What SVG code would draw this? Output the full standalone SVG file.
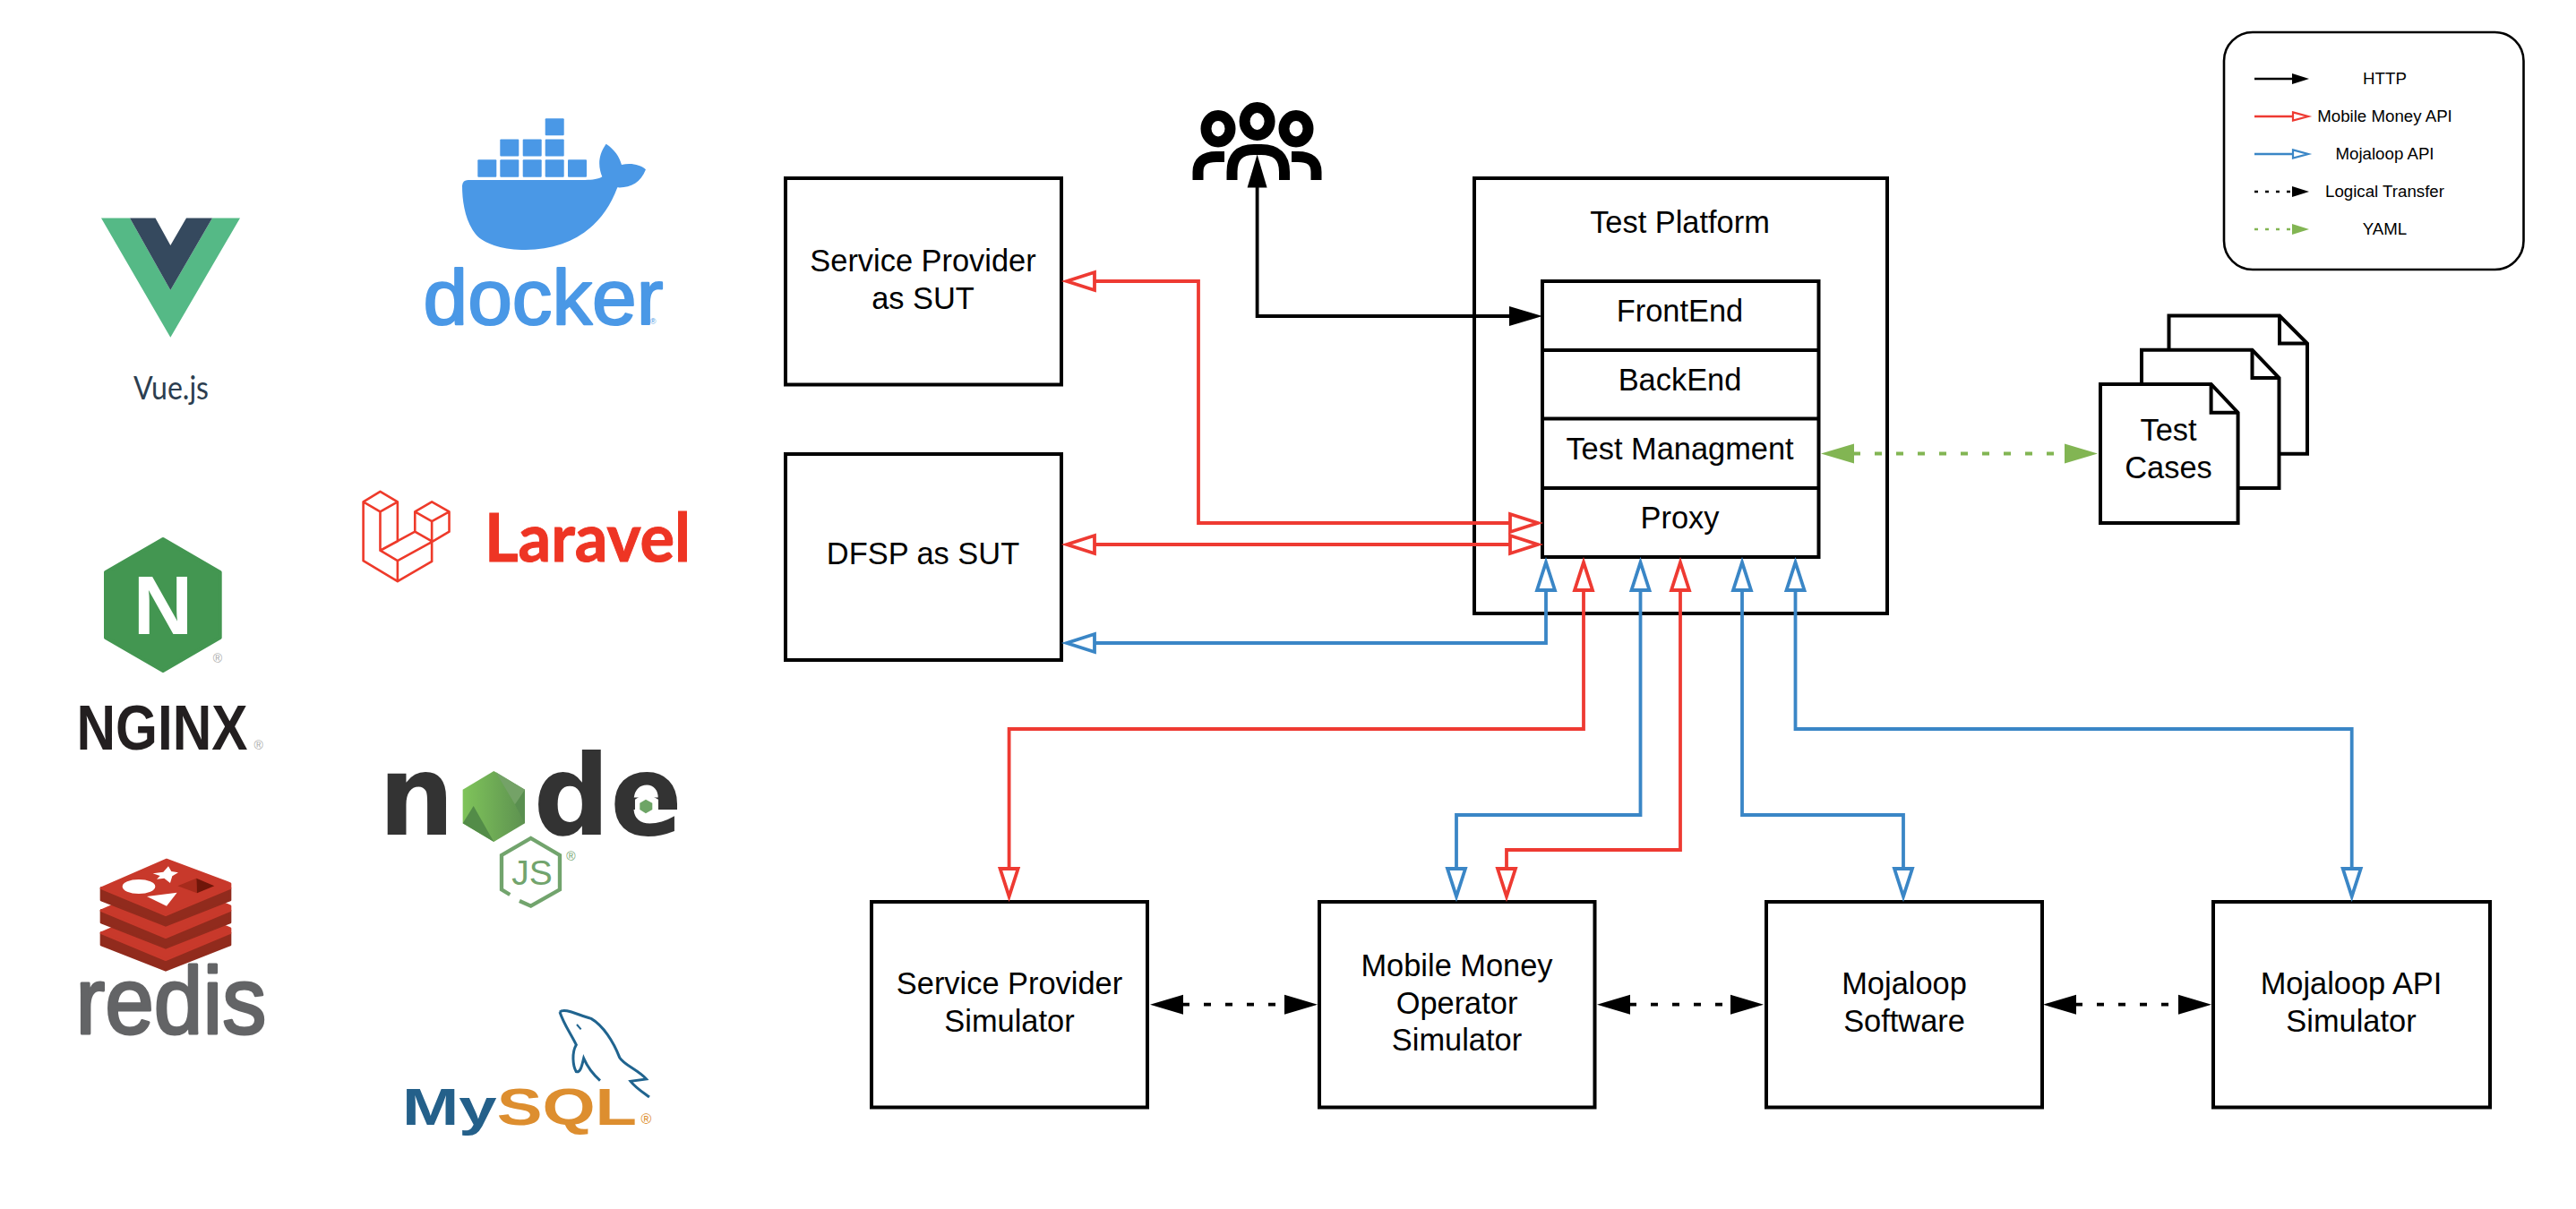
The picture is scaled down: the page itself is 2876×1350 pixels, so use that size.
<svg xmlns="http://www.w3.org/2000/svg" width="2876" height="1350" viewBox="0 0 2876 1350">
<style>
text{font-family:"Liberation Sans",Arial,sans-serif;fill:#000}
.lb{font-size:34.400px;text-anchor:middle}
.lg{font-size:18.700px;text-anchor:middle}
.box{fill:#fff;stroke:#000;stroke-width:4}
.ln{fill:none;stroke:#000;stroke-width:4}
.c{fill:none;stroke-width:3.8;stroke-linejoin:miter}
.red{stroke:#ee3a32}.blue{stroke:#3a86c6}.blk{stroke:#000}.grn{stroke:#82b553}
.dot{stroke-dasharray:8 16}
.lc{fill:none;stroke-width:2.4}
.ldot{stroke-dasharray:4 8}
.hd{fill:#fff;stroke-width:3.8;stroke-miterlimit:12}
.hl{fill:#fff;stroke-width:2.2;stroke-miterlimit:12}
.ic{fill:none;stroke:#000;stroke-width:12}
.cont{fill:#4a98e6}
.lv{fill:none;stroke:#ee3a2a;stroke-width:2.6;stroke-linejoin:round;vector-effect:non-scaling-stroke}
.reg{font-size:14px;fill:#aaa;text-anchor:middle}
</style>
<defs>
<marker id="redOpen" markerUnits="userSpaceOnUse" markerWidth="42" markerHeight="28" viewBox="0 0 42 28" refX="2" refY="14" orient="auto-start-reverse" overflow="visible"><path class="hd" stroke="#ee3a32" d="M2 4L33 14L2 24Z"/></marker>
<marker id="blueOpen" markerUnits="userSpaceOnUse" markerWidth="42" markerHeight="28" viewBox="0 0 42 28" refX="2" refY="14" orient="auto-start-reverse" overflow="visible"><path class="hd" stroke="#3a86c6" d="M2 4L33 14L2 24Z"/></marker>
<marker id="blackSolid" markerUnits="userSpaceOnUse" markerWidth="40" markerHeight="24" viewBox="0 0 40 24" refX="1" refY="12" orient="auto-start-reverse"><path d="M0 1L37 12L0 23Z"/></marker>
<marker id="greenSolid" markerUnits="userSpaceOnUse" markerWidth="40" markerHeight="24" viewBox="0 0 40 24" refX="1" refY="12" orient="auto-start-reverse"><path fill="#82b553" d="M0 1L37 12L0 23Z"/></marker>
<marker id="redLeg" markerUnits="userSpaceOnUse" markerWidth="24" markerHeight="14" viewBox="0 0 24 14" refX="1" refY="7" orient="auto" overflow="visible"><path class="hl" stroke="#ee3a32" d="M1 2.400L18 7L1 11.600Z"/></marker>
<marker id="blueLeg" markerUnits="userSpaceOnUse" markerWidth="24" markerHeight="14" viewBox="0 0 24 14" refX="1" refY="7" orient="auto" overflow="visible"><path class="hl" stroke="#3a86c6" d="M1 2.400L18 7L1 11.600Z"/></marker>
<marker id="blackLeg" markerUnits="userSpaceOnUse" markerWidth="20" markerHeight="14" viewBox="0 0 20 14" refX="0" refY="7" orient="auto"><path d="M0 1L19 7L0 13Z"/></marker>
<marker id="greenLeg" markerUnits="userSpaceOnUse" markerWidth="20" markerHeight="14" viewBox="0 0 20 14" refX="0" refY="7" orient="auto"><path fill="#82b553" d="M0 1L19 7L0 13Z"/></marker>
<linearGradient id="nodeGrad" x1="0" x2="1" y1="0" y2="0"><stop offset="0" stop-color="#7fc45a"/><stop offset="1" stop-color="#5d9150"/></linearGradient>
</defs>

<g id="logo-vue">
<path fill="#55b986" d="M113 243.500H145L190.300 324L237 243.500H268L190.300 376.700Z"/>
<path fill="#35495e" d="M145 243.500H173.500L190.300 274L208 243.500H237L190.300 324Z"/>
<text x="191" y="446" font-size="36" text-anchor="middle" textLength="84" lengthAdjust="spacingAndGlyphs" style="font-family:Lato,'Liberation Sans',sans-serif;font-weight:400;fill:#2c3e50">Vue.js</text>
</g>

<g id="logo-docker">
<g class="cont">
<rect x="533.300" y="178.300" width="21" height="19.500" rx="1"/><rect x="558.300" y="178.300" width="21" height="19.500" rx="1"/><rect x="583.700" y="178.300" width="21" height="19.500" rx="1"/><rect x="608.700" y="178.300" width="21" height="19.500" rx="1"/><rect x="634" y="178.300" width="21" height="19.500" rx="1"/>
<rect x="558.300" y="155.500" width="21" height="19" rx="1"/><rect x="583.700" y="155.500" width="21" height="19" rx="1"/><rect x="608.700" y="155.500" width="21" height="19" rx="1"/>
<rect x="608.700" y="132.300" width="21" height="19" rx="1"/>
</g>
<path class="cont" transform="translate(440 110) scale(.3333)" d="M228 292Q230 273 248 273H640C665 273 685 270 697 262C685 232 680 195 710 152C738 170 755 195 762 222C795 215 825 222 843 238C825 285 790 300 748 298C700 430 590 507 440 507C370 507 310 490 280 462C240 420 228 350 228 292Z"/>
<text x="606.500" y="361.700" font-size="88" text-anchor="middle" textLength="268" lengthAdjust="spacingAndGlyphs" stroke="#4a98e6" stroke-width="2.200" stroke-linejoin="round" style="fill:#4a98e6">docker</text>
<text x="729" y="361.500" font-size="9" text-anchor="middle" style="fill:#4a98e6">®</text>
</g>

<g id="logo-laravel">
<g transform="translate(0 100) scale(.5102 .3827)">
<path class="lv" d="M832 1173L795 1203L832 1232L870 1203ZM795 1203V1375L870 1435L945 1377V1320M832 1232V1345L908 1290M870 1203V1318L832 1345L870 1375L945 1320L983 1290V1232M870 1375V1435M945 1203L908 1232L945 1260L983 1232ZM908 1232V1290L945 1318V1260"/>
</g>
<text x="541" y="626.600" font-size="74" textLength="230" lengthAdjust="spacingAndGlyphs" stroke="#ee3524" stroke-width="1" style="font-family:Lato,'Liberation Sans',sans-serif;font-weight:700;fill:#ee3524">Laravel</text>
</g>

<g id="logo-nginx">
<path fill="#439651" stroke="#439651" stroke-width="4" stroke-linejoin="round" d="M182 602L245.700 639V712L182 749L118 712V639Z"/>
<text x="182" y="708" font-size="92" font-weight="700" text-anchor="middle" style="fill:#fff">N</text>
<text x="243" y="739.500" class="reg">®</text>
<text x="181" y="836.700" font-size="70" font-weight="700" text-anchor="middle" textLength="191" lengthAdjust="spacingAndGlyphs" style="fill:#231f20">NGINX</text>
<text x="288.700" y="836.500" class="reg">®</text>
</g>

<g id="logo-node">
<g transform="translate(0 932) scale(.95 1)">
<text y="0" x="445" font-size="125" font-weight="700" style="font-family:'DejaVu Sans',sans-serif;fill:#333">n<tspan x="549" font-size="90">o</tspan><tspan x="627">d</tspan><tspan x="717">e</tspan></text>
</g>
<g transform="translate(410 800) scale(.3333)">
<path fill="url(#nodeGrad)" d="M424 183L528 245V358L424 420L320 358V245Z"/>
<path fill="#538c48" d="M320 358L356 300L424 420Z"/>
<path fill="#74a267" d="M430 186L528 245V262L495 295Z"/>
<path fill="#5a8f50" d="M528 245L495 295L528 358Z"/>
<path fill="#fff" d="M933 255L975 278V325L933 348L897 325V278Z"/>
<path fill="#6ea566" d="M933 278L955 290V312L933 325L913 312V290Z"/>
<path fill="none" stroke="#72a46d" stroke-width="13" d="M510 618L548 635L645 580V465L548 408L450 465V580L478 597"/>
</g>
<text x="594" y="988" font-size="39" text-anchor="middle" style="fill:#72a46d">JS</text>
<text x="637.300" y="961" class="reg" style="fill:#72a46d">®</text>
</g>

<g id="logo-redis">
<g transform="translate(60 950) scale(.3333)" stroke-width="8" stroke-linejoin="round">
<path fill="#912b1d" stroke="#912b1d" d="M159 275V315L375 400L591 315V275Z"/>
<path fill="#c8392b" stroke="#c8392b" d="M159 275L378 180L591 260V275L375 365Z"/>
<path fill="#912b1d" stroke="#912b1d" d="M159 200V240L375 325L591 240V200Z"/>
<path fill="#c8392b" stroke="#c8392b" d="M159 200L378 105L591 185V200L375 290Z"/>
<path fill="#912b1d" stroke="#912b1d" d="M159 125V165L375 250L591 165V125Z"/>
<path fill="#c8392b" stroke="#c8392b" d="M159 125L378 30L591 110V125L375 215Z"/>
<g stroke="none">
<ellipse cx="285" cy="120" rx="55" ry="24" fill="#fff"/>
<path fill="#fff" d="M332 76L367 71L384 52L394 69L417 73L397 85L390 108L370 92L345 95L356 84Z"/>
<path fill="#fff" d="M312 153L413 140L378 185Z"/>
<path fill="#a72b1c" d="M415 118L478 92L480 142Z"/>
<path fill="#6f1609" d="M478 92L538 118L480 142Z"/>
</g>
</g>
<text x="191" y="1153.500" font-size="106" text-anchor="middle" textLength="213" lengthAdjust="spacingAndGlyphs" stroke="#636466" stroke-width="3" stroke-linejoin="round" style="fill:#636466">redis</text>
</g>

<g id="logo-mysql">
<g transform="translate(430 1110) scale(.3333)" fill="none" stroke="#20648f" stroke-width="9">
<path d="M585 60C600 45 640 68 690 82C730 105 765 160 785 212C800 238 850 255 875 285L822 292C840 315 865 330 885 345"/>
<path d="M585 60C598 100 620 130 640 170C625 195 628 240 640 260C655 265 660 235 665 215C680 250 700 272 720 290"/>
<path stroke-width="6" d="M642 102L656 118"/>
</g>
<text x="449" y="1255.700" font-size="58" font-weight="700" textLength="262" lengthAdjust="spacingAndGlyphs" style="fill:#24608a">My<tspan style="fill:#dd8e2f">SQL</tspan></text>
<text x="721.500" y="1254.500" font-size="16" text-anchor="middle" style="fill:#dd8e2f">®</text>
</g>

<g id="users">
<ellipse class="ic" cx="1403.600" cy="135.500" rx="14" ry="15.400" stroke-width="11"/>
<ellipse class="ic" cx="1360" cy="143.700" rx="13.500" ry="14.700" stroke-width="11"/>
<ellipse class="ic" cx="1447" cy="143.700" rx="13.500" ry="14.700" stroke-width="11"/>
<path class="ic" d="M1375.500 201V192Q1375.500 167 1400 167H1408Q1434 167 1434 192V201"/>
<path class="ic" d="M1337.500 201V192Q1337.500 175 1358 175H1367"/>
<path class="ic" d="M1469.500 201V192Q1469.500 175 1449 175H1442"/>
</g>

<g id="sp-sut"><rect class="box" x="877" y="199" width="308" height="230.500"/><text class="lb" x="1030.500" y="302.500">Service Provider</text><text class="lb" x="1030.500" y="344.500">as SUT</text></g>
<g id="dfsp-sut"><rect class="box" x="877" y="507" width="308" height="230"/><text class="lb" x="1030.500" y="629.500">DFSP as SUT</text></g>

<g id="test-platform">
<rect class="box" x="1646" y="199" width="461" height="486"/>
<text class="lb" x="1875.500" y="259.500">Test Platform</text>
<rect class="box" x="1722" y="314" width="308.500" height="308"/>
<path class="ln" d="M1722 391H2030.500M1722 467.500H2030.500M1722 545H2030.500"/>
<text class="lb" x="1875.500" y="359">FrontEnd</text>
<text class="lb" x="1875.500" y="436">BackEnd</text>
<text class="lb" x="1875.500" y="513">Test Managment</text>
<text class="lb" x="1875.500" y="590">Proxy</text>
</g>

<g id="test-cases">
<path class="box" d="M2421.500 352.500H2545L2576 383.600V506.800H2421.500Z"/><path class="ln" d="M2545 352.500V383.600H2576"/>
<path class="box" d="M2391 390.700H2514.500L2544.500 422V545H2391Z"/><path class="ln" d="M2514.500 390.700V422H2544.500"/>
<path class="box" d="M2345 429H2468.600L2498.600 460.700V584H2345Z"/><path class="ln" d="M2468.600 429V460.700H2498.600"/>
<text class="lb" x="2421" y="491.500">Test</text><text class="lb" x="2421" y="533.500">Cases</text>
</g>

<g id="sp-sim"><rect class="box" x="973" y="1007" width="308" height="229.500"/><text class="lb" x="1127" y="1109.500">Service Provider</text><text class="lb" x="1127" y="1151.500">Simulator</text></g>
<g id="mmo-sim"><rect class="box" x="1473" y="1007" width="307.500" height="229.500"/><text class="lb" x="1626.500" y="1089.500">Mobile Money</text><text class="lb" x="1626.500" y="1131.500">Operator</text><text class="lb" x="1626.500" y="1172.500">Simulator</text></g>
<g id="mojaloop"><rect class="box" x="1972" y="1007" width="308" height="229.500"/><text class="lb" x="2126" y="1109.500">Mojaloop</text><text class="lb" x="2126" y="1151.500">Software</text></g>
<g id="api-sim"><rect class="box" x="2471" y="1007" width="309" height="229.500"/><text class="lb" x="2625" y="1109.500">Mojaloop API</text><text class="lb" x="2625" y="1151.500">Simulator</text></g>

<g id="legend">
<rect x="2483" y="36" width="334.500" height="265" rx="32" fill="#fff" stroke="#000" stroke-width="2.600"/>
<path class="lc blk" marker-end="url(#blackLeg)" d="M2517 88H2559"/>
<path class="lc red" marker-end="url(#redLeg)" d="M2517 130H2560"/>
<path class="lc blue" marker-end="url(#blueLeg)" d="M2517 172H2560"/>
<path class="lc blk ldot" marker-end="url(#blackLeg)" d="M2517 214H2559"/>
<path class="lc grn ldot" marker-end="url(#greenLeg)" d="M2517 256H2559"/>
<text class="lg" x="2662.500" y="94">HTTP</text>
<text class="lg" x="2662.500" y="136">Mobile Money API</text>
<text class="lg" x="2662.500" y="177.500">Mojaloop API</text>
<text class="lg" x="2662.500" y="219.500">Logical Transfer</text>
<text class="lg" x="2662.500" y="261.500">YAML</text>
</g>

<g id="connectors">
<path class="c blk" marker-start="url(#blackSolid)" marker-end="url(#blackSolid)" d="M1403.600 208.500V353H1686"/>
<path class="c red" marker-start="url(#redOpen)" marker-end="url(#redOpen)" d="M1222 314H1338V584H1686"/>
<path class="c red" marker-start="url(#redOpen)" marker-end="url(#redOpen)" d="M1222 608H1686"/>
<path class="c blue" marker-start="url(#blueOpen)" marker-end="url(#blueOpen)" d="M1222 718H1726V659"/>
<path class="c red" marker-start="url(#redOpen)" marker-end="url(#redOpen)" d="M1768 659V814H1126.600V970"/>
<path class="c blue" marker-start="url(#blueOpen)" marker-end="url(#blueOpen)" d="M1831.500 659V910H1626V970"/>
<path class="c red" marker-start="url(#redOpen)" marker-end="url(#redOpen)" d="M1876 659V949H1682V970"/>
<path class="c blue" marker-start="url(#blueOpen)" marker-end="url(#blueOpen)" d="M1945 659V910H2125V970"/>
<path class="c blue" marker-start="url(#blueOpen)" marker-end="url(#blueOpen)" d="M2004.500 659V814H2625.700V970"/>
<path class="c blk dot" marker-start="url(#blackSolid)" marker-end="url(#blackSolid)" d="M1320 1121.700H1435"/>
<path class="c blk dot" marker-start="url(#blackSolid)" marker-end="url(#blackSolid)" d="M1819 1121.700H1933"/>
<path class="c blk dot" marker-start="url(#blackSolid)" marker-end="url(#blackSolid)" d="M2317 1121.700H2433"/>
<path class="c grn dot" marker-start="url(#greenSolid)" marker-end="url(#greenSolid)" d="M2069 506.500H2306"/>
</g>
</svg>
